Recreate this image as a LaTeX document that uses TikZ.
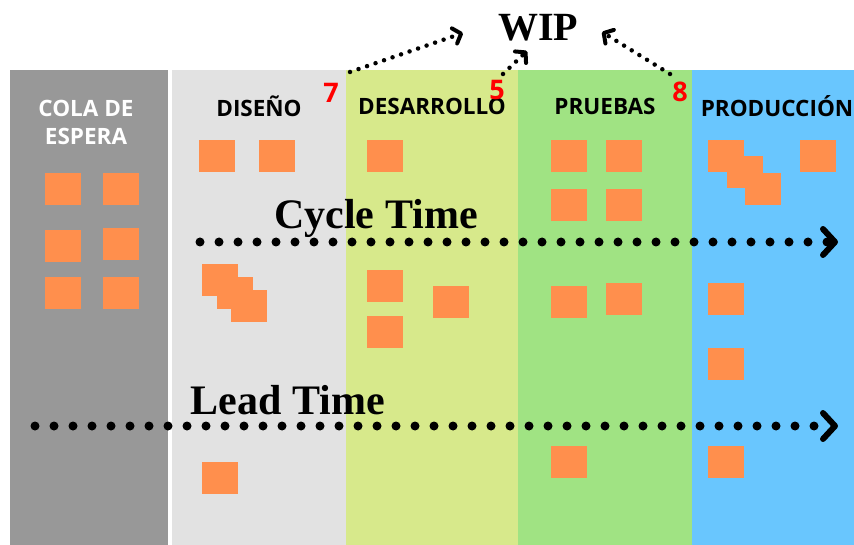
\documentclass[tikz,border=0pt]{standalone}
\usepackage{fontspec}
\usetikzlibrary{arrows.meta}

\newfontfamily\headfont{Open Sans}
\newfontfamily\bigfont{Liberation Serif}

\definecolor{colagray}{RGB}{152,152,152}
\definecolor{disenogray}{RGB}{226,226,226}
\definecolor{desarrollogreen}{RGB}{215,233,139}
\definecolor{pruebasgreen}{RGB}{160,227,131}
\definecolor{produccionblue}{RGB}{105,198,254}
\definecolor{cardorange}{RGB}{255,143,77}

\tikzset{
  col/.style={inner sep=0pt, minimum height=475pt, anchor=north west},
  card/.style={fill=cardorange, inner sep=0pt, minimum width=36pt, minimum height=32pt},
  head/.style={font=\headfont\bfseries\fontsize{22.5}{28}\selectfont},
  wipnum/.style={text=red, font=\headfont\bfseries\fontsize{27}{27}\selectfont},
  bigtext/.style={font=\bigfont\bfseries\fontsize{42}{42}\selectfont},
  bigdots/.style={line width=9pt, line cap=round, dash pattern=on 0pt off 19pt,
    -{Straight Barb[length=12pt, width=26pt, line width=6pt, round]}},
  smalldots/.style={line width=4.5pt, line cap=round, dash pattern=on 0pt off 9pt,
    -{Straight Barb[length=7pt, width=16pt, line width=4pt, round]}}
}

\begin{document}
\begin{tikzpicture}[x=1pt,y=-1pt]
   \useasboundingbox (0,0) rectangle (854,545);

   % columns
   \node[col, fill=colagray, minimum width=158pt] (cola) at (10,70) {};
   \node[col, fill=disenogray, minimum width=174pt] (diseno) at (172,70) {};
   \node[col, fill=desarrollogreen, minimum width=172pt] (desarrollo) at (346,70) {};
   \node[col, fill=pruebasgreen, minimum width=174pt] (pruebas) at (518,70) {};
   \node[col, fill=produccionblue, minimum width=162pt] (produccion) at (692,70) {};

   % headers
   \node[head, text=white, align=center] (hcola) at (86,122) {COLA DE\\ESPERA};
   \node[head] (hdiseno) at (259,106) {DISEÑO};
   \node[head] (hdesarrollo) at (432,106) {DESARROLLO};
   \node[head] (hpruebas) at (605,106) {PRUEBAS};
   \node[head] (hproduccion) at (777,106) {PRODUCCIÓN};

   % WIP limits
   \node[wipnum] (n7) at (331,93) {7};
   \node[wipnum] (n5) at (497,90) {5};
   \node[wipnum] (n8) at (680,92) {8};

   % cola de espera
   \node[card] (c1) at (63,189) {};
   \node[card] (c2) at (121,189) {};
   \node[card] (c3) at (63,246) {};
   \node[card] (c4) at (121,244) {};
   \node[card] (c5) at (63,293) {};
   \node[card] (c6) at (121,293) {};

   % diseno
   \node[card] (c7) at (217,156) {};
   \node[card] (c8) at (277,156) {};
   \node[card] (c9) at (219.5,280) {};
   \node[card] (c10) at (234.5,293) {};
   \node[card] (c11) at (248.5,306) {};
   \node[card] (c12) at (219.5,478) {};

   % desarrollo
   \node[card] (c13) at (384.5,156) {};
   \node[card] (c14) at (384.5,286) {};
   \node[card] (c15) at (384.5,332) {};
   \node[card] (c16) at (450.5,302) {};

   % pruebas
   \node[card] (c17) at (568.5,156) {};
   \node[card] (c18) at (623.5,156) {};
   \node[card] (c19) at (568.5,205) {};
   \node[card] (c20) at (623.5,205) {};
   \node[card] (c21) at (568.5,302) {};
   \node[card] (c22) at (623.5,299) {};
   \node[card] (c23) at (568.5,462) {};

   % produccion
   \node[card] (c24) at (726,156.5) {};
   \node[card] (c25) at (744.5,172.5) {};
   \node[card] (c26) at (762.5,189) {};
   \node[card] (c27) at (818,156.5) {};
   \node[card] (c28) at (726,299) {};
   \node[card] (c29) at (726,364) {};
   \node[card] (c30) at (726,462) {};

   % WIP
   \node[bigtext, font=\bigfont\bfseries\fontsize{40}{40}\selectfont] (wip) at (538,28) {WIP};
   \coordinate (s7) at (350,72);
   \coordinate (e7) at (463,33);
   \coordinate (s5) at (503,74);
   \coordinate (e5) at (527,51);
   \coordinate (s8) at (670,74);
   \coordinate (e8) at (602,32);
   \draw[smalldots] (s7) -- (e7);
   \draw[smalldots] (s5) -- (e5);
   \draw[smalldots] (s8) -- (e8);

   % cycle time
   \node[bigtext] (cycle) at (376,218) {Cycle Time};
   \coordinate (ct0) at (200,242);
   \coordinate (ct1) at (838,242);
   \draw[bigdots] (ct0) -- (ct1);

   % lead time
   \node[bigtext] (lead) at (288,400) {Lead Time};
   \coordinate (lt0) at (35,426);
   \coordinate (lt1) at (838,426);
   \draw[bigdots] (lt0) -- (lt1);
\end{tikzpicture}
\end{document}
